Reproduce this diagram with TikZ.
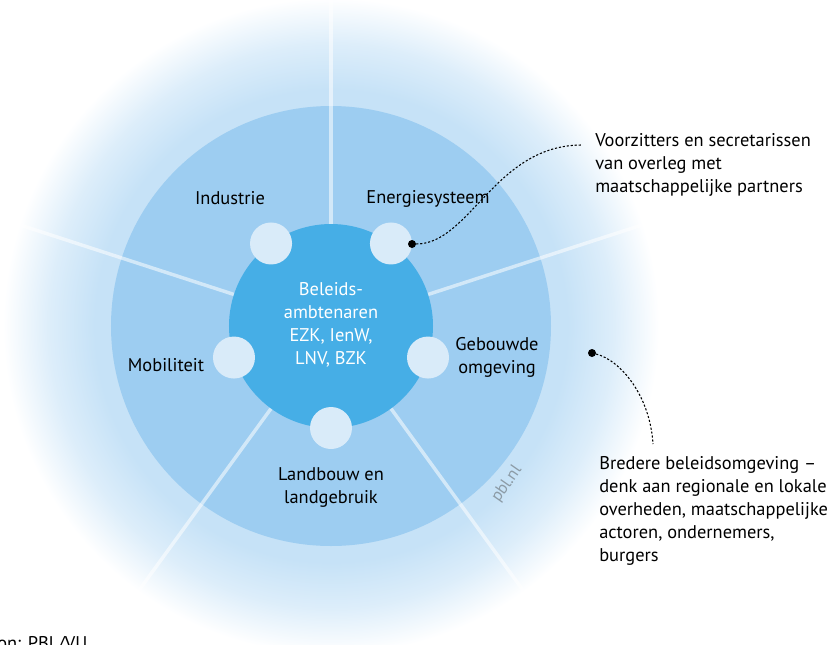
\documentclass[tikz,border=0pt]{standalone}
\usepackage{fontspec}
\setmainfont{PT Sans}
\usetikzlibrary{positioning}

\definecolor{core}{HTML}{46AEE6}
\definecolor{ring}{HTML}{9DCDF1}
\definecolor{halo}{HTML}{C6E2F7}
\definecolor{disc}{HTML}{D9EBF9}
\definecolor{mark}{HTML}{8C9BA6}

% pale outer ring, fading out to white
\pgfdeclareradialshading{halofade}{\pgfpoint{0bp}{0bp}}%
  {color(0bp)=(halo); color(18bp)=(halo); color(21.5bp)=(halo!60!white); color(25bp)=(white); color(50bp)=(white)}

\begin{document}
\begin{tikzpicture}[x=0.75pt,y=0.75pt,
  lbl/.style={font=\fontsize{13.8}{17.25}\selectfont, inner sep=0pt},
  sector/.style={fill=disc, draw=none, circle, minimum size=31.5pt, inner sep=0pt},
  spoke/.style={white, opacity=0.55, line width=2.6pt},
  pin/.style={fill=black, circle, minimum size=6pt, inner sep=0pt},
  lead/.style={black, line width=0.8pt, dash pattern=on 1.6pt off 1.4pt}]
 \useasboundingbox (-331,326) rectangle (504,-318);

 % rings
 \shade[shading=halofade] (0,0) circle (328);
 \fill[ring] (0,0) circle (220);
 \foreach \a in {18,90,162,234,306}
   \draw[spoke] (\a:100) -- (\a:330);
 \node[circle, fill=core, minimum size=153pt, inner sep=0pt] (core) at (0,0) {};
 \node[lbl, white, align=center] (ambt) at (0,1) {Beleids-\\ambtenaren\\EZK, IenW,\\LNV, BZK};

 % sectors round the core
 \node[sector] (s1) at (126:102) {};
 \node[sector] (s2) at (54:102)  {};
 \node[sector] (s3) at (198:102) {};
 \node[sector] (s4) at (342:102) {};
 \node[sector] (s5) at (270:102) {};

 \node[lbl, anchor=base] (Industrie)  at (-101,122) {Industrie};
 \node[lbl, anchor=base] (Energie)    at (97,123)   {Energiesysteem};
 \node[lbl, anchor=base] (Mobiliteit) at (-165,-45) {Mobiliteit};
 \node[lbl, anchor=north, align=center] (Gebouwd)  at (166,-11)  {Gebouwde\\omgeving};
 \node[lbl, anchor=north, align=center] (Landbouw) at (0,-141)   {Landbouw en\\landgebruik};

 \node[font=\fontsize{12.5}{14}\selectfont, text=mark, rotate=55, inner sep=0pt] (pbl) at (176,-158) {pbl.nl};

 % annotations
 \node[pin] (vzdot) at (81,82) {};
 \node[pin] (brdot) at (261,-27) {};
 \node[lbl, anchor=north west, align=left] (vz) at (264,193)
   {Voorzitters en secretarissen\\van overleg met\\maatschappelijke partners};
 \node[lbl, anchor=north west, align=left] (br) at (268,-130)
   {Bredere beleidsomgeving –\\denk aan regionale en lokale\\overheden, maatschappelijke\\actoren, ondernemers,\\burgers};
 \coordinate (vzend) at (251,181);
 \coordinate (brend) at (322,-118);
 \draw[lead] (vzdot) .. controls (139,82) and (164,181) .. (vzend);
 \draw[lead] (brdot) .. controls (289,-34) and (319,-69) .. (brend);

 \node[lbl, anchor=base west] (bron) at (-334,-323) {on: PBL/VU};
\end{tikzpicture}
\end{document}
